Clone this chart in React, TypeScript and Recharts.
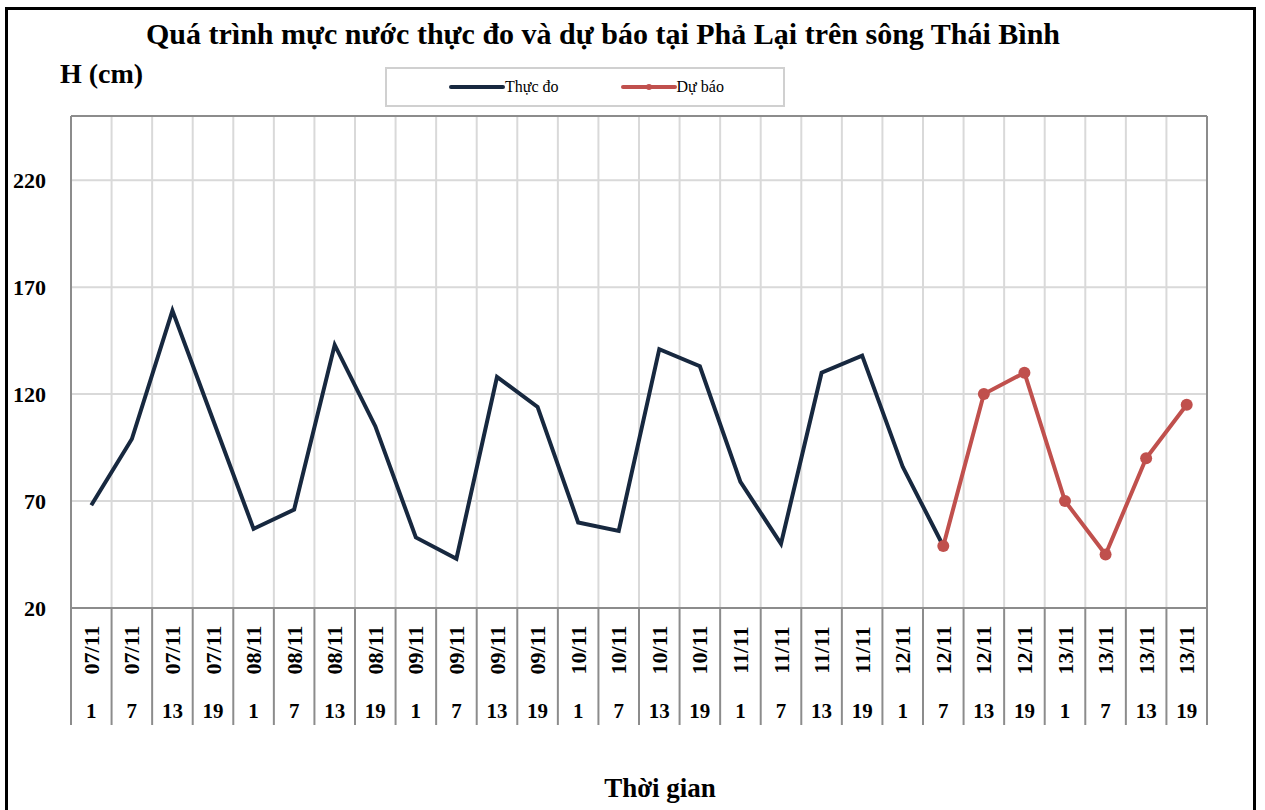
import { LineChart, Line, XAxis, YAxis, CartesianGrid, Legend, ReferenceLine } from 'recharts';

// ngày và giờ quan trắc
const days = ['07/11', '08/11', '09/11', '10/11', '11/11', '12/11', '13/11'];
const hours = ['1', '7', '13', '19'];
const yTicks = [20, 70, 120, 170, 220];

// mực nước (cm)
const observed = [68, 99, 159, 108, 57, 66, 143, 105, 53, 43, 128, 114, 60, 56, 141, 133, 79, 50, 130, 138, 86, 49, null, null, null, null, null, null];
const forecast = [null, null, null, null, null, null, null, null, null, null, null, null, null, null, null, null, null, null, null, null, null, 49, 120, 130, 70, 45, 90, 115];

const data = days.flatMap((d, i) =>
  hours.map((h, j) => {
    const k = i * hours.length + j;
    return { key: `${d}|${h}`, day: d, hour: h, obs: observed[k], fc: forecast[k] };
  })
);

const FONT = '"Liberation Serif", "Times New Roman", serif';
const NAVY = '#17283f';
const RED = '#c0504d';
const BORDER = '#8c8c8c';
const GRID = '#d9d9d9';

const XTick = (props: any) => {
  const { x, y, payload, index } = props;
  const half = payload.offset ?? 20.3;
  const [day, hour] = String(payload.value).split('|');
  const last = index === data.length - 1;
  return (
    <g>
      <line x1={x - half} y1={y} x2={x - half} y2={y + 117} stroke={BORDER} strokeWidth={2} />
      {last && <line x1={x + half} y1={y} x2={x + half} y2={y + 117} stroke={BORDER} strokeWidth={2} />}
      <text
        transform={`translate(${x}, ${y + 42}) rotate(-90)`}
        textAnchor="middle"
        dominantBaseline="central"
        fontFamily={FONT}
        fontWeight="bold"
        fontSize={22}
        fill="#000"
      >
        {day}
      </text>
      <text x={x} y={y + 103} textAnchor="middle" dominantBaseline="central" fontFamily={FONT} fontWeight="bold" fontSize={21} fill="#000">
        {hour}
      </text>
    </g>
  );
};

const LegendBox = () => (
  <div
    style={{
      width: 396,
      height: 36,
      border: '2px solid #d0d0d0',
      display: 'flex',
      alignItems: 'center',
      fontFamily: FONT,
      fontSize: 16,
      color: '#000',
    }}
  >
    <svg width={56} height={10} style={{ marginLeft: 62 }}>
      <line x1={2} y1={5} x2={54} y2={5} stroke={NAVY} strokeWidth={4} strokeLinecap="round" />
    </svg>
    <span>Thực đo</span>
    <svg width={56} height={10} style={{ marginLeft: 62 }}>
      <line x1={2} y1={5} x2={54} y2={5} stroke={RED} strokeWidth={4} strokeLinecap="round" />
      <circle cx={28} cy={5} r={3} fill={RED} />
    </svg>
    <span>Dự báo</span>
  </div>
);

export default function App() {
  return (
    <div style={{ position: 'absolute', left: 0, top: 0, width: 1265, height: 810, overflow: 'hidden', background: '#fff' }}>
      <div style={{ position: 'absolute', left: 5, top: 7, width: 1245, height: 830, border: '3px solid #000' }} />
      <div
        style={{
          position: 'absolute',
          left: 0,
          top: 17,
          width: 1206,
          textAlign: 'center',
          fontFamily: FONT,
          fontWeight: 'bold',
          fontSize: 30,
        }}
      >
        Quá trình mực nước thực đo và dự báo tại Phả Lại trên sông Thái Bình
      </div>
      <div style={{ position: 'absolute', left: 60, top: 58, fontFamily: FONT, fontWeight: 'bold', fontSize: 28 }}>H (cm)</div>
      <div
        style={{
          position: 'absolute',
          left: 0,
          top: 773,
          width: 1320,
          textAlign: 'center',
          fontFamily: FONT,
          fontWeight: 'bold',
          fontSize: 27,
        }}
      >
        Thời gian
      </div>
      <div style={{ position: 'absolute', left: 0, top: 0 }}>
        <LineChart width={1265} height={810} data={data} margin={{ top: 115, right: 57, left: 11, bottom: 82 }}>
          <CartesianGrid vertical={false} stroke={GRID} strokeWidth={2} />
          {data.slice(1).map((d) => (
            <ReferenceLine key={d.key} x={d.key} position="start" stroke={GRID} strokeWidth={2} />
          ))}
          <XAxis
            dataKey="key"
            scale="band"
            interval={0}
            height={120}
            tickSize={0}
            tickMargin={0}
            tickLine={false}
            axisLine={{ stroke: BORDER, strokeWidth: 2 }}
            tick={<XTick />}
          />
          <XAxis xAxisId="top" orientation="top" dataKey="key" scale="band" height={1} tick={false} tickLine={false} axisLine={{ stroke: BORDER, strokeWidth: 2 }} />
          <YAxis
            domain={[20, 250]}
            ticks={yTicks}
            width={60}
            tickLine={false}
            tickMargin={19}
            axisLine={{ stroke: BORDER, strokeWidth: 2 }}
            tick={{ fontFamily: FONT, fontWeight: 'bold', fontSize: 22, fill: '#000' }}
          />
          <YAxis yAxisId="right" orientation="right" domain={[0, 1]} width={1} tick={false} tickLine={false} axisLine={{ stroke: BORDER, strokeWidth: 2 }} />
          <Legend
            layout="horizontal"
            verticalAlign="middle"
            align="center"
            content={() => <LegendBox />}
            wrapperStyle={{ position: 'absolute', left: 385, top: 67, width: 400, height: 40 }}
          />
          <Line
            name="Thực đo"
            dataKey="obs"
            stroke={NAVY}
            strokeWidth={4}
            dot={false}
            activeDot={false}
            isAnimationActive={false}
          />
          <Line
            name="Dự báo"
            dataKey="fc"
            stroke={RED}
            strokeWidth={4}
            dot={{ r: 6, fill: RED, stroke: RED, strokeWidth: 0 }}
            activeDot={false}
            isAnimationActive={false}
          />
        </LineChart>
      </div>
    </div>
  );
}
